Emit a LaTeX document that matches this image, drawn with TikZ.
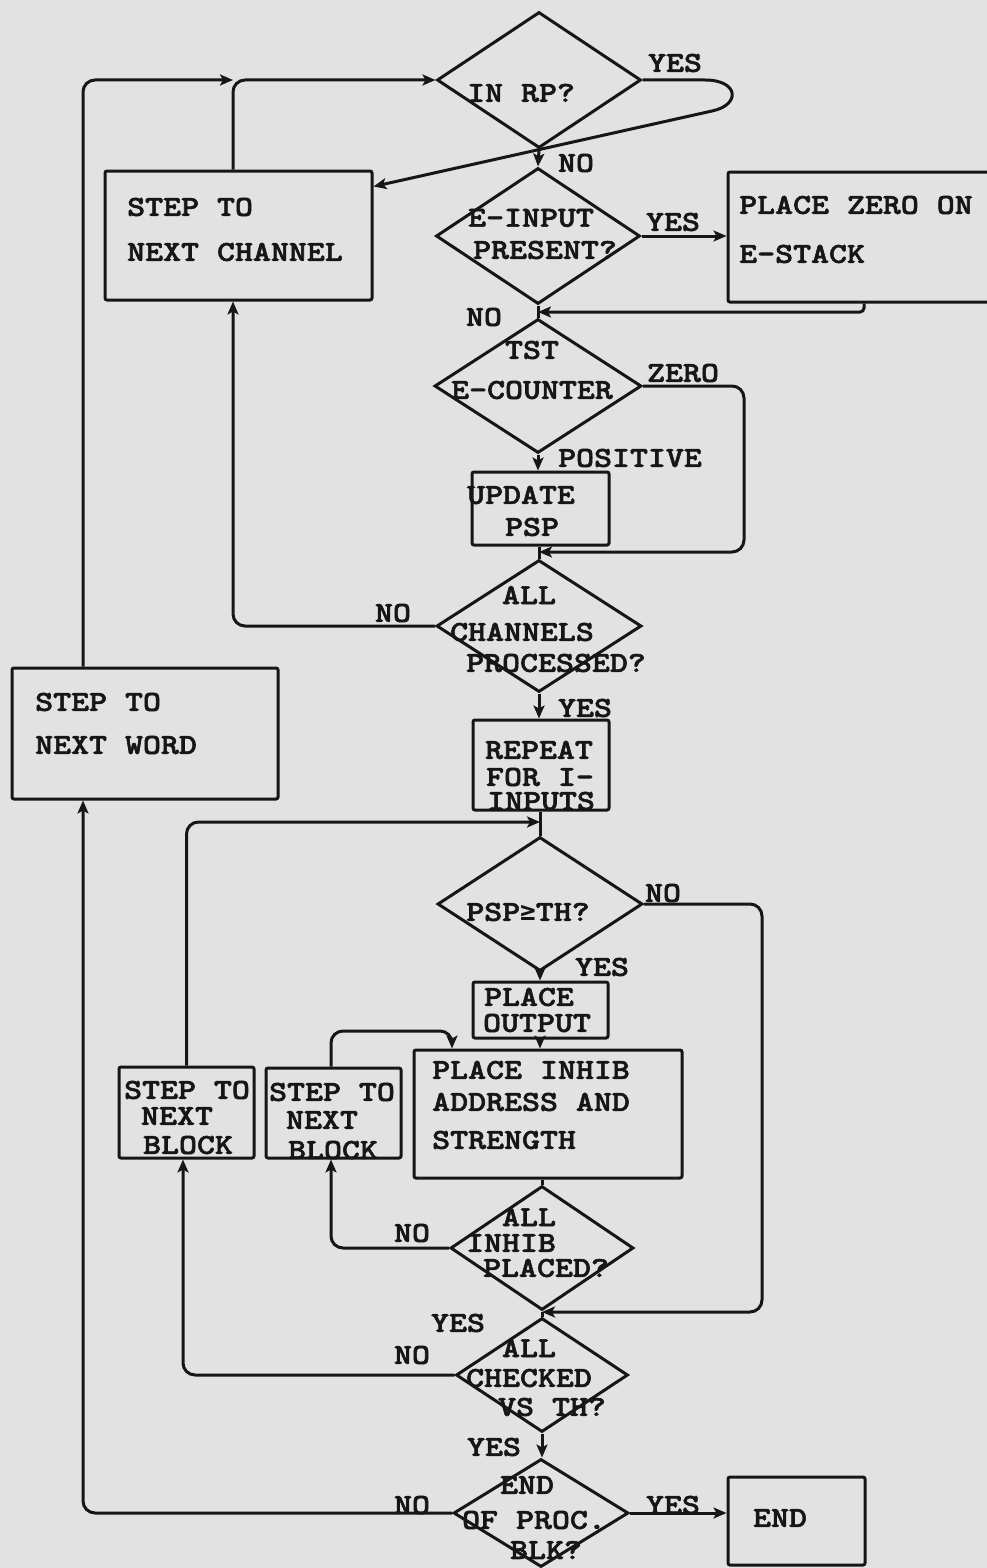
\documentclass[tikz,border=0pt]{standalone}
\usepackage{fontspec}
\newfontfamily\tw{lmmonolt10-bold.otf}[FakeStretch=1.18,FakeBold=2]
\newfontfamily\dvm{DejaVu Sans Mono}
\usetikzlibrary{shapes.geometric,arrows.meta,calc}
\definecolor{paper}{RGB}{226,226,226}
\definecolor{ink}{RGB}{22,22,22}
\newcommand{\geqsym}{{\dvm\bfseries\fontsize{26}{28}\selectfont ≥}}
\begin{document}
\begin{tikzpicture}[x=1pt,y=-1pt,
  tx/.style={inner sep=0pt,text=ink,font=\tw\fontsize{29}{31}\selectfont},
  txw/.style={tx,anchor=west},
  dia/.style={diamond,draw=ink,line width=3pt,inner sep=0pt},
  box/.style={rectangle,draw=ink,line width=3pt,inner sep=0pt,rounded corners=2pt},
  ln/.style={draw=ink,line width=3pt,rounded corners=12pt},
  ar/.style={ln,-{Stealth[length=13pt,width=11pt,inset=3pt]}},
  arsharp/.style={draw=ink,line width=3pt,-{Stealth[length=13pt,width=11pt,inset=3pt]}}]
\fill[paper] (0,0) rectangle (987,1568);
\useasboundingbox (0,0) rectangle (987,1568);
\clip (0,0) rectangle (987,1568);

% ---------- shapes ----------
\node[dia,minimum width=204pt,minimum height=136pt] (d1) at (539,80) {};
\node[dia,minimum width=204pt,minimum height=136pt] (d2) at (538,236) {};
\node[dia,minimum width=207pt,minimum height=134pt] (d3) at (538,386) {};
\node[dia,minimum width=205pt,minimum height=132pt] (d4) at (539,626) {};
\node[dia,minimum width=205pt,minimum height=134pt] (d5) at (540,904) {};
\node[dia,minimum width=183pt,minimum height=124pt] (d6) at (542,1248) {};
\node[dia,minimum width=172pt,minimum height=114pt] (d7) at (542,1375) {};
\node[dia,minimum width=175pt,minimum height=108pt] (d8) at (541,1513) {};

\node[box,minimum width=267pt,minimum height=129pt] (chan) at (238.5,235.5) {};
\node[box,minimum width=272pt,minimum height=130pt] (zero) at (864,237) {};
\node[box,minimum width=137pt,minimum height=73pt] (psp) at (540.5,508.5) {};
\node[box,minimum width=266pt,minimum height=131pt] (word) at (145,733.5) {};
\node[box,minimum width=136pt,minimum height=90pt] (rep) at (541,765) {};
\node[box,minimum width=135pt,minimum height=56pt] (out) at (540.5,1010) {};
\node[box,minimum width=268pt,minimum height=128pt] (inh) at (548,1114) {};
\node[box,minimum width=135pt,minimum height=91pt] (blk1) at (186.5,1112.5) {};
\node[box,minimum width=135pt,minimum height=90pt] (blk2) at (333.5,1113) {};
\node[box,minimum width=137pt,minimum height=88pt] (endb) at (796.5,1521) {};

% ---------- routing coordinates ----------
\coordinate (xw) at (83,0);
\coordinate (xc) at (233,0);
\coordinate (xz) at (744,0);
\coordinate (xn) at (762,0);
\coordinate (xb2) at (331,0);
\coordinate (xb1) at (183,0);
\coordinate (j1) at (233,80);
\coordinate (j2) at (538,312);
\coordinate (j3) at (539,552);
\coordinate (j5) at (540,822);
\coordinate (j6) at (542,1312);
\coordinate (k1) at (452,1031);
\coordinate (lp1) at (705,80);
\coordinate (lp2) at (712,111);

% ---------- connectors ----------
\draw[ar] (word.north -| xw) |- (j1);
\draw[ar] (chan.north -| xc) |- (d1.west);
\draw[arsharp] (d1.east) -- (lp1) .. controls (739,80) and (741,105) .. (lp2) -- ([yshift=-17pt]chan.north east);
\draw[ar] (d1.south) -- (d2.north);
\draw[ar] (d2.east) -- (zero.west |- d2.east);
\draw[ar,rounded corners=4pt] (zero.south) |- (j2);
\draw[ln] (d2.south) -- (d3.north);
\draw[ar] (d3.east) -| (xz |- j3) -- (j3);
\draw[ar] (d3.south) -- (d3.south |- psp.north);
\draw[ln] (d4.north |- psp.south) -- (d4.north);
\draw[ar] (d4.west) -| (chan.south -| xc);
\draw[ar] (d4.south) -- (d4.south |- rep.north);
\draw[ln] (d5.north |- rep.south) -- (d5.north);
\draw[ar] (blk1.north) |- (j5);
\draw[ar] (d5.east) -| (xn |- j6) -- (j6);
\draw[ar] (d5.south) -- (d5.south |- out.north);
\draw[ar] (d5.south |- out.south) -- (d5.south |- inh.north);
\draw[ar] (blk2.north -| xb2) |- (k1) -- (k1 |- inh.north);
\draw[ln] (d6.north |- inh.south) -- (d6.north);
\draw[ar] (d6.west) -| (blk2.south -| xb2);
\draw[ln] (d6.south) -- (d7.north);
\draw[ar] (d7.west) -| (blk1.south -| xb1);
\draw[ar] (d7.south) -- (d7.south |- d8.north);
\draw[ar] (d8.west) -| (word.south -| xw);
\draw[ar] (d8.east) -- (endb.west |- d8.east);

% ---------- texts ----------
\node[tx] (t1) at (521,93) {IN RP?};
\node[tx] (l1) at (675,63) {YES};
\node[tx] (l2) at (576,163) {NO};
\node[txw] (t2a) at (127,207) {STEP TO};
\node[txw] (t2b) at (127,252) {NEXT CHANNEL};
\node[tx] (t3a) at (531,218) {E-INPUT};
\node[tx] (t3b) at (545,250) {PRESENT?};
\node[tx] (l3) at (673,222) {YES};
\node[txw] (t4a) at (739,205) {PLACE ZERO ON};
\node[txw] (t4b) at (739,254) {E-STACK};
\node[tx] (l4) at (484,317) {NO};
\node[tx] (t5a) at (532,350) {TST};
\node[tx] (t5b) at (532,390) {E-COUNTER};
\node[tx] (l5) at (683,373) {ZERO};
\node[tx] (l6) at (630,458) {POSITIVE};
\node[tx] (t6a) at (521,495) {UPDATE};
\node[tx] (t6b) at (532,527) {PSP};
\node[tx] (l7) at (393,613) {NO};
\node[tx] (t7a) at (529,595) {ALL};
\node[tx] (t7b) at (522,632) {CHANNELS};
\node[tx] (t7c) at (556,663) {PROCESSED?};
\node[tx] (l8) at (585,708) {YES};
\node[tx] (t8a) at (539,750) {REPEAT};
\node[tx] (t8b) at (540,777) {FOR I-};
\node[tx] (t8c) at (541,801) {INPUTS};
\node[txw] (t9a) at (35,702) {STEP TO};
\node[txw] (t9b) at (35,745) {NEXT WORD};
\node[tx] (t10) at (528,912) {PSP\geqsym TH?};
\node[tx] (l9) at (663,893) {NO};
\node[tx] (l10) at (602,967) {YES};
\node[tx] (t11a) at (529,997) {PLACE};
\node[tx] (t11b) at (537,1023) {OUTPUT};
\node[txw] (t12a) at (432,1070) {PLACE INHIB};
\node[txw] (t12b) at (432,1102) {ADDRESS AND};
\node[txw] (t12c) at (432,1140) {STRENGTH};
\node[tx] (t13a) at (187,1090) {STEP TO};
\node[tx] (t13b) at (177,1116) {NEXT};
\node[tx] (t13c) at (188,1145) {BLOCK};
\node[tx] (t14a) at (332,1092) {STEP TO};
\node[tx] (t14b) at (322,1120) {NEXT};
\node[tx] (t14c) at (333,1150) {BLOCK};
\node[tx] (t15a) at (529,1217) {ALL};
\node[tx] (t15b) at (511,1243) {INHIB};
\node[tx] (t15c) at (546,1268) {PLACED?};
\node[tx] (l11) at (412,1233) {NO};
\node[tx] (l12) at (458,1323) {YES};
\node[tx] (t16a) at (529,1348) {ALL};
\node[tx] (t16b) at (529,1378) {CHECKED};
\node[tx] (t16c) at (552,1407) {VS TH?};
\node[tx] (l13) at (412,1355) {NO};
\node[tx] (l14) at (494,1447) {YES};
\node[tx] (t17a) at (527,1485) {END};
\node[tx] (t17b) at (534,1520) {OF PROC.};
\node[tx] (t17c) at (546,1550) {BLK?};
\node[tx] (l15) at (412,1505) {NO};
\node[tx] (l16) at (673,1505) {YES};
\node[tx] (t18) at (780,1518) {END};
\end{tikzpicture}
\end{document}
